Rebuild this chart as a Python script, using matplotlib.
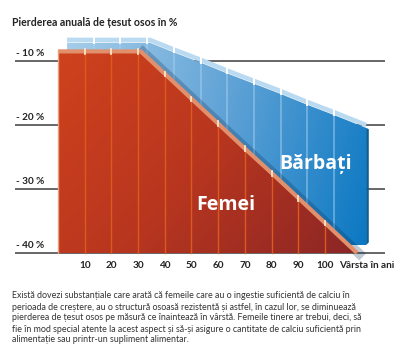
import numpy as np
import matplotlib.pyplot as plt
from matplotlib.patches import Polygon
from matplotlib.colors import LinearSegmentedColormap

# -----------------------------
# Data
# -----------------------------
ages = [0, 10, 20, 31, 40, 50, 60, 70, 80, 90, 100, 112]
femei = [-8.4, -8.4, -8.4, -8.4, -11.9, -15.8, -19.7, -23.6, -27.4, -31.3, -35.2, -39.9]
barbati = [-8.4, -8.4, -8.4, -8.4, -9.9, -11.5, -13.2, -14.8, -16.4, -18.1, -19.7, -21.7]
y_ticks = [-10, -20, -30, -40]
y_labels = ["- 10 %", "- 20 %", "- 30 %", "- 40 %"]
x_ticks = [10, 20, 30, 40, 50, 60, 70, 80, 90, 100]
bottom = -40

title = "Pierderea anuală de țesut osos în %"
x_title = "Vârsta în ani"
paragraph = [
    "Există dovezi substanțiale care arată că femeile care au o ingestie suficientă de calciu în",
    "perioada de creștere, au o structură osoasă rezistentă și astfel, în cazul lor, se diminuează",
    "pierderea de țesut osos pe măsură ce înaintează în vârstă. Femeile tinere ar trebui, deci, să",
    "fie în mod special atente la acest aspect și să-și asigure o cantitate de calciu suficientă prin",
    "alimentație sau printr-un supliment alimentar.",
]

plt.rcParams['font.family'] = ['Lato', 'DejaVu Sans']

fig = plt.figure(figsize=(4.06, 3.54), dpi=100)
ax = fig.add_axes([0, 0, 1, 1])
ax.set_xlim(-21.72, 130.34)
ax.set_ylim(-55.78, -0.47)
ax.axis('off')

# 3D depth offset for the back (men) block
dx, dy = 3.4, 1.25


def gradient_fill(xs, ys, colors, zorder, tilt=0.4):
    poly = Polygon(np.column_stack([xs, ys]), closed=True,
                   facecolor='none', edgecolor='none')
    ax.add_patch(poly)
    gx, gy = np.meshgrid(np.linspace(0, 1, 200), np.linspace(0, 1, 200))
    t = (gx + tilt * (1 - gy)) / (1 + tilt)
    cmap = LinearSegmentedColormap.from_list('g', colors)
    im = ax.imshow(t, extent=[min(xs), max(xs), min(ys), max(ys)],
                   origin='lower', cmap=cmap, aspect='auto',
                   interpolation='bilinear', zorder=zorder)
    im.set_clip_path(poly)


# grid lines
ax.hlines(y_ticks, -16.1, 122.5, color='#4d4d4d', lw=1.2, zorder=1)
for v, lab in zip(y_ticks, y_labels):
    ax.text(-15.7, v + 1.1, lab, fontsize=7.2, fontweight='bold',
            color='#222222', va='center', ha='left')

# ---- men block (behind) ----
bx = [a + dx for a in ages]
by = [v + dy for v in barbati]
gradient_fill(bx + [bx[-1], bx[0]], by + [bottom + dy, bottom + dy],
              ['#a6cde9', '#5fa2d6', '#0b78c2'], zorder=2, tilt=0.2)
# right side face
ax.fill([bx[-1], bx[-1] + 1.0, bx[-1] + 1.0, bx[-1]],
        [by[-1], by[-1] - 0.2, bottom + dy + 0.4, bottom + dy],
        color='#0a5f98', zorder=2.5, lw=0)
# top face
ax.plot(bx, [v + 0.45 for v in by], color='#b9daf1', lw=3.2, zorder=2.6,
        solid_capstyle='butt')
for a in x_ticks:
    top = np.interp(a, ages, barbati) + dy
    ax.plot([a + dx, a + dx], [bottom + dy, top], color='#a9d3f3',
            lw=1.1, alpha=0.6, zorder=2.7)
    ax.plot([a + dx, a + dx], [top, top + 0.9], color='white', lw=1.4, zorder=2.8)

# shadow of the women block on the men block
ax.plot([a + 0.8 for a in ages[3:]], [v - 0.2 for v in femei[3:]],
        color='#0a2a50', lw=7, alpha=0.25, zorder=2.9)

# ---- women block (front) ----
gradient_fill(ages + [ages[-1], ages[0]], femei + [bottom, bottom],
              ['#cf421d', '#b8361f', '#8b2625'], zorder=3, tilt=0.6)
for a in x_ticks:
    top = np.interp(a, ages, femei)
    ax.plot([a, a], [bottom, top], color='#dc5a1e', lw=1.0, zorder=3.5)
ax.plot(ages, [v - 0.1 for v in femei], color='#e2906c', lw=3.0, zorder=3.6,
        solid_capstyle='butt')
ax.plot([ages[0], ages[0]], [bottom, femei[0]], color='#e8a080', lw=1.0, zorder=3.6)
for a in x_ticks:
    top = np.interp(a, ages, femei)
    ax.plot([a, a], [top - 0.5, top + 0.25], color='#fbe3c8', lw=1.3, zorder=3.7)

# series names
ax.text(62.9, -32.5, "Femei", fontsize=14, fontweight='bold', color='white',
        ha='center', va='center', zorder=5, family=['Open Sans', 'DejaVu Sans'])
ax.text(96.3, -26.1, "Bărbați", fontsize=14, fontweight='bold', color='white',
        ha='center', va='center', zorder=5, family=['Open Sans', 'DejaVu Sans'])

# x ticks
for a in x_ticks:
    ax.text(a, -41.9, str(a), fontsize=7.2, fontweight='bold', color='#222222',
            ha='center', va='center')
ax.text(105.4, -41.9, x_title, fontsize=7.2, fontweight='bold', color='#222222',
        ha='left', va='center')

# title and note
fig.text(12 / 406, 1 - 22 / 354, title, fontsize=7.6, fontweight='bold',
         color='#222222', ha='left', va='center')
for i, line in enumerate(paragraph):
    fig.text(12 / 406, 1 - (296 + 11 * i) / 354, line, fontsize=6.4,
             color='#333333', ha='left', va='center')

fig.savefig('out.png', dpi=100)
